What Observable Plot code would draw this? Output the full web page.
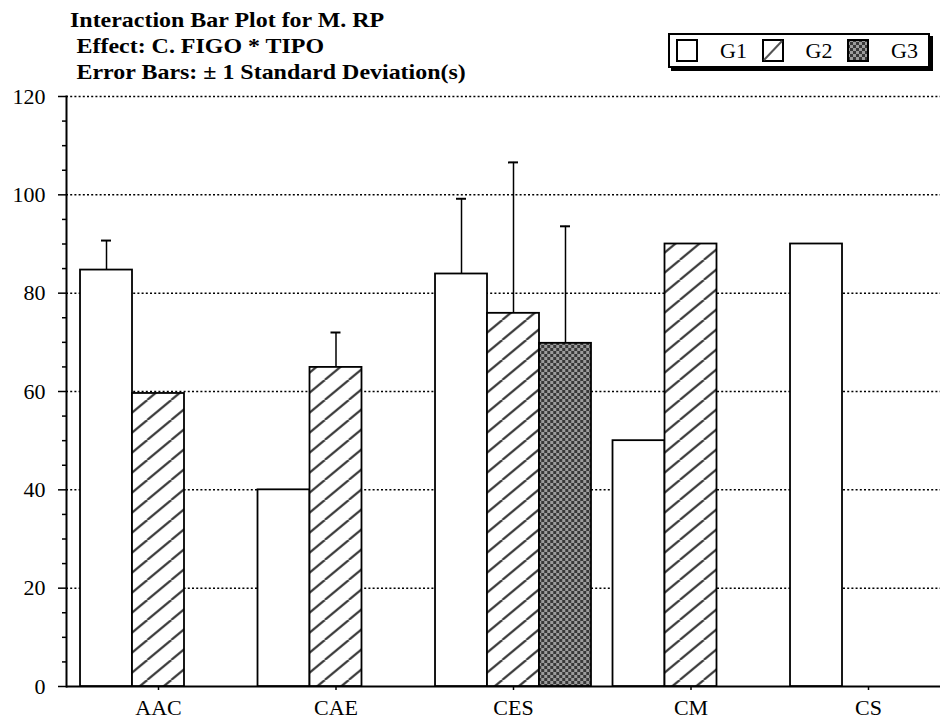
<!DOCTYPE html>
<html>
<head>
<meta charset="utf-8">
<script src="https://cdn.jsdelivr.net/npm/d3@7"></script>
<script src="https://cdn.jsdelivr.net/npm/@observablehq/plot@0.6"></script>
<style>
  html, body { margin: 0; padding: 0; background: #fff; }
  #chart { position: relative; width: 942px; height: 720px; overflow: hidden;
           font-family: "Liberation Serif", "Times New Roman", serif; color: #000; }
  #chart .layer { position: absolute; left: 0; top: 0; }
  #title { position: absolute; left: 70px; top: 7px; font-weight: bold; font-size: 22px;
           line-height: 26px; white-space: pre; transform: scaleX(1.088); transform-origin: 0 0; }
  #title .sub { padding-left: 6px; }
  #legend { position: absolute; left: 668px; top: 33px; width: 262px; height: 35px; box-sizing: border-box;
            border: 2px solid #000; box-shadow: 3px 3px 0 #000; background: #fff;
            display: flex; align-items: center; padding-left: 6px; }
  #legend .item { display: flex; align-items: center; width: 85.5px; flex: none; }
  #legend svg { display: block; flex: none; }
  #legend .lab { margin-left: 22px; font-size: 22px; line-height: 22px; }
</style>
</head>
<body>
<svg width="0" height="0" style="position:absolute">
  <defs>
    <pattern id="hatch" patternUnits="userSpaceOnUse" width="24" height="20">
      <rect width="24" height="20" fill="#fff"/>
      <line x1="0" y1="20" x2="24" y2="0" stroke="#3a3a3a" stroke-width="2.2"/>
      <line x1="-24" y1="20" x2="0" y2="0" stroke="#3a3a3a" stroke-width="2.2"/>
      <line x1="24" y1="20" x2="48" y2="0" stroke="#3a3a3a" stroke-width="2.2"/>
    </pattern>
    <pattern id="checker" patternUnits="userSpaceOnUse" width="6" height="6">
      <rect width="6" height="6" fill="#9c9c9c"/>
      <rect x="0" y="0" width="3" height="3" fill="#383838"/>
      <rect x="3" y="3" width="3" height="3" fill="#383838"/>
    </pattern>
  </defs>
</svg>
<div id="chart">
  <div id="title"><div>Interaction Bar Plot for M. RP</div><div class="sub">Effect: C. FIGO * TIPO</div><div class="sub">Error Bars: ± 1 Standard Deviation(s)</div></div>
</div>
<script>
// ---- data ----
const categories = ["AAC", "CAE", "CES", "CM", "CS"];
const groups = ["G1", "G2", "G3"];
const g1Means = [84.7, 40.0, 83.9, 50.0, 90.0];
const g2Means = [59.6, 64.9, 75.9, 90.0, null];
const g3Means = [null, null, 69.8, null, null];
const g1Sd = [6.0, null, 15.3, null, null];
const g2Sd = [null, 7.1, 30.7, null, null];
const g3Sd = [null, null, 23.8, null, null];
const yTicks = [0, 20, 40, 60, 80, 100, 120];
const yMinorTicks = [5, 10, 15, 25, 30, 35, 45, 50, 55, 65, 70, 75, 85, 90, 95, 105, 110, 115];
const groupFills = ["#ffffff", "url(#hatch)", "url(#checker)"];

const means = [g1Means, g2Means, g3Means];
const sds = [g1Sd, g2Sd, g3Sd];
const rows = categories.flatMap((c, i) => groups.map((g, j) => ({cat: c, group: g, mean: means[j][i], sd: sds[j][i]})))
  .filter(d => d.mean != null);
const errRows = rows.filter(d => d.sd != null);

const W = 942, H = 720, MT = 96, MB = 34, ML = 66, MR = 2;
const xRange = [69.25, 956.75];
const baseStyle = {background: "transparent", fontFamily: "'Liberation Serif', 'Times New Roman', serif", fontSize: "22px", color: "#000"};

// background layer: grid, axes
const layerA = Plot.plot({
  width: W, height: H, marginTop: MT, marginBottom: MB, marginLeft: ML, marginRight: MR,
  style: baseStyle,
  x: {type: "band", domain: categories, range: xRange, padding: 0, round: false},
  y: {domain: [0, 120], label: null},
  marks: [
    Plot.ruleY(yTicks.filter(d => d > 0), {stroke: "#000", strokeWidth: 1.5, strokeDasharray: "2,2.2"}),
    Plot.axisY({ticks: yMinorTicks, tickSize: 4, tickFormat: () => "", strokeWidth: 1.5, label: null}),
    Plot.axisY({ticks: yTicks, tickSize: 8, tickPadding: 13, strokeWidth: 1.5, label: null, fontSize: 22}),
    Plot.axisX({tickSize: 4, tickPadding: 9, strokeWidth: 1.5, label: null, fontSize: 22}),
    Plot.frame({anchor: "left", strokeWidth: 2}),
    Plot.ruleY([0], {strokeWidth: 2})
  ]
});

// bars layer: grouped bars with error bars
const layerB = Plot.plot({
  width: W, height: H, marginTop: MT, marginBottom: MB, marginLeft: ML, marginRight: MR,
  style: baseStyle,
  fx: {domain: categories, range: xRange, padding: 0, round: false, axis: null, label: null},
  x: {domain: groups, paddingInner: 0, paddingOuter: 0.207, round: false, axis: null},
  y: {domain: [0, 120], axis: null},
  color: {domain: groups, range: groupFills},
  marks: [
    Plot.barY(rows, {fx: "cat", x: "group", y: "mean", fill: "group", stroke: "#000", strokeWidth: 1.8}),
    Plot.ruleX(errRows, {fx: "cat", x: "group", y1: "mean", y2: d => d.mean + d.sd, stroke: "#000", strokeWidth: 1.5}),
    Plot.tickY(errRows, {fx: "cat", x: "group", y: d => d.mean + d.sd, insetLeft: 21, insetRight: 21, stroke: "#000", strokeWidth: 2})
  ]
});

const chart = document.getElementById("chart");
layerA.classList.add("layer");
layerB.classList.add("layer");
chart.insertBefore(layerB, chart.firstChild);
chart.insertBefore(layerA, chart.firstChild);

// legend
const legend = document.createElement("div");
legend.id = "legend";
groups.forEach((g, j) => {
  const item = document.createElement("div");
  item.className = "item";
  const ns = "http://www.w3.org/2000/svg";
  const s = document.createElementNS(ns, "svg");
  s.setAttribute("width", 22); s.setAttribute("height", 23);
  const r = document.createElementNS(ns, "rect");
  r.setAttribute("x", 1); r.setAttribute("y", 1); r.setAttribute("width", 20); r.setAttribute("height", 21);
  r.setAttribute("fill", j === 1 ? "#fff" : groupFills[j]);
  r.setAttribute("stroke", "#000"); r.setAttribute("stroke-width", 2);
  s.appendChild(r);
  if (j === 1) {
    const l = document.createElementNS(ns, "line");
    l.setAttribute("x1", 2); l.setAttribute("y1", 21); l.setAttribute("x2", 20); l.setAttribute("y2", 2);
    l.setAttribute("stroke", "#555"); l.setAttribute("stroke-width", 2);
    s.appendChild(l);
  }
  item.appendChild(s);
  const t = document.createElement("span");
  t.className = "lab"; t.textContent = g;
  item.appendChild(t);
  legend.appendChild(item);
});
chart.appendChild(legend);
</script>
</body>
</html>
